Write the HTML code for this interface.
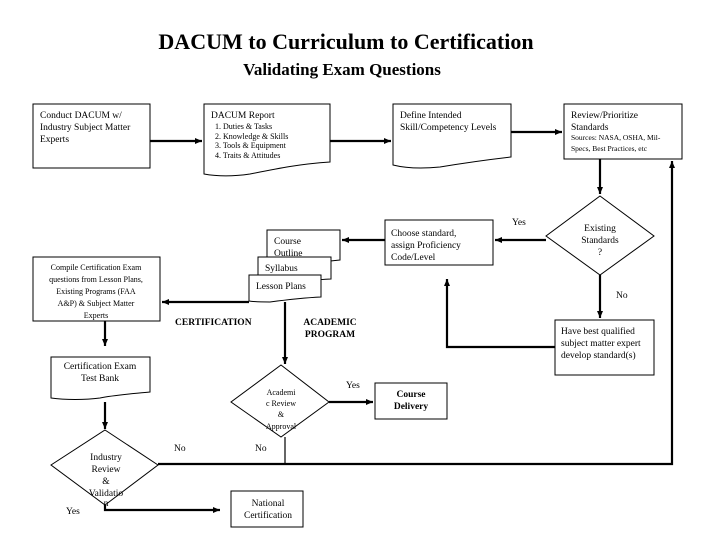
<!DOCTYPE html>
<html><head><meta charset="utf-8"><style>
html,body{margin:0;padding:0;background:#fff;}
svg{display:block;}
text{font-family:"Liberation Serif",serif;fill:#000;}
</style></head><body>
<svg width="720" height="540" viewBox="0 0 720 540" xmlns="http://www.w3.org/2000/svg">
<defs>
<marker id="a" markerWidth="8" markerHeight="8" refX="7" refY="4" orient="auto" markerUnits="userSpaceOnUse">
<path d="M0,1 L7,4 L0,7 Z" fill="#000"/></marker>
</defs>
<text x="346" y="49" font-size="22" font-weight="bold" text-anchor="middle">DACUM to Curriculum to Certification</text>
<text x="342" y="75" font-size="17" font-weight="bold" text-anchor="middle">Validating Exam Questions</text>

<g fill="none" stroke="#000" stroke-width="1">
<rect x="33" y="104" width="117" height="64"/>
<path d="M204,104 H330 V162 C300,164 280,168 250,174 C230,177 215,176 204,174 Z"/>
<path d="M393,104 H511 V157 C485,160 470,162 440,167 C420,169 405,168 393,165 Z"/>
<rect x="564" y="104" width="118" height="55"/>
<path d="M600,196 L654,236 L600,275 L546,236 Z"/>
<rect x="385" y="220" width="108" height="45"/>
<rect x="555" y="320" width="99" height="55"/>
<path d="M267,230 H340 V260 C320,262 300,264 285,267 C278,268 272,268 267,267 Z" fill="#fff"/>
<path d="M258,257 H331 V279 C310,280 295,282 280,284 C272,284 265,284 258,283 Z" fill="#fff"/>
<path d="M249,275 H321 V297 C300,298 285,300 270,302 C262,302 255,302 249,301 Z" fill="#fff"/>
<rect x="33" y="257" width="127" height="64"/>
<path d="M51,357 H150 V392 C130,394 115,395 100,398 C85,400 65,400 51,398 Z"/>
<path d="M105,430 L158,465 L105,505 L51,465 Z"/>
<path d="M281,365 L329,402 L281,437 L231,402 Z"/>
<rect x="375" y="383" width="72" height="36"/>
<rect x="231" y="491" width="72" height="36"/>
</g>

<g fill="none" stroke="#000" stroke-width="2.2">
<line x1="150" y1="141" x2="202" y2="141" marker-end="url(#a)"/>
<line x1="330" y1="141" x2="391" y2="141" marker-end="url(#a)"/>
<line x1="511" y1="132" x2="562" y2="132" marker-end="url(#a)"/>
<line x1="600" y1="159" x2="600" y2="194" marker-end="url(#a)"/>
<line x1="546" y1="240" x2="495" y2="240" marker-end="url(#a)"/>
<line x1="600" y1="275" x2="600" y2="318" marker-end="url(#a)"/>
<polyline points="555,347 447,347 447,279" marker-end="url(#a)"/>
<polyline points="158,464 672,464 672,161" marker-end="url(#a)"/>
<line x1="385" y1="240" x2="342" y2="240" marker-end="url(#a)"/>
<line x1="249" y1="302" x2="162" y2="302" marker-end="url(#a)"/>
<line x1="105" y1="321" x2="105" y2="346" marker-end="url(#a)"/>
<line x1="105" y1="402" x2="105" y2="429" marker-end="url(#a)"/>
<line x1="285" y1="302" x2="285" y2="364" marker-end="url(#a)"/>
<line x1="329" y1="402" x2="373" y2="402" marker-end="url(#a)"/>
<polyline points="105,505 105,510 220,510" marker-end="url(#a)"/>
</g>
<line x1="285" y1="437" x2="285" y2="464" stroke="#000" stroke-width="1.2"/>

<g font-size="9.5">
<text x="40" y="118">Conduct DACUM w/</text>
<text x="40" y="130">Industry Subject Matter</text>
<text x="40" y="142">Experts</text>
<text x="211" y="118">DACUM Report</text>
<text x="400" y="118">Define Intended</text>
<text x="400" y="130">Skill/Competency Levels</text>
<text x="571" y="118">Review/Prioritize</text>
<text x="571" y="130">Standards</text>
<text x="391" y="236">Choose standard,</text>
<text x="391" y="248">assign Proficiency</text>
<text x="391" y="260">Code/Level</text>
<text x="561" y="334">Have best qualified</text>
<text x="561" y="346">subject matter expert</text>
<text x="561" y="358">develop standard(s)</text>
<text x="274" y="244">Course</text>
<text x="274" y="256">Outline</text>
<text x="265" y="271">Syllabus</text>
<text x="256" y="289">Lesson Plans</text>
<text x="100" y="369" text-anchor="middle">Certification Exam</text>
<text x="100" y="381" text-anchor="middle">Test Bank</text>
<text x="106" y="460" text-anchor="middle">Industry</text>
<text x="106" y="472" text-anchor="middle">Review</text>
<text x="106" y="484" text-anchor="middle">&amp;</text>
<text x="106" y="496" text-anchor="middle">Validatio</text>
<text x="106" y="506" text-anchor="middle">n</text>
<text x="268" y="506" text-anchor="middle">National</text>
<text x="268" y="518" text-anchor="middle">Certification</text>
<text x="600" y="231" text-anchor="middle">Existing</text>
<text x="600" y="243" text-anchor="middle">Standards</text>
<text x="600" y="255" text-anchor="middle">?</text>
<text x="512" y="225">Yes</text>
<text x="616" y="298">No</text>
<text x="346" y="388">Yes</text>
<text x="174" y="451">No</text>
<text x="255" y="451">No</text>
<text x="66" y="514">Yes</text>
</g>
<g font-size="8">
<text x="215" y="129">1. Duties &amp; Tasks</text>
<text x="215" y="139">2. Knowledge &amp; Skills</text>
<text x="215" y="148">3. Tools &amp; Equipment</text>
<text x="215" y="158">4. Traits &amp; Attitudes</text>
<text x="96" y="270" text-anchor="middle">Compile Certification Exam</text>
<text x="96" y="282" text-anchor="middle">questions from Lesson Plans,</text>
<text x="96" y="294" text-anchor="middle">Existing Programs (FAA</text>
<text x="96" y="306" text-anchor="middle">A&amp;P) &amp; Subject Matter</text>
<text x="96" y="318" text-anchor="middle">Experts</text>
<text x="281" y="395" text-anchor="middle">Academi</text>
<text x="281" y="406" text-anchor="middle">c Review</text>
<text x="281" y="417" text-anchor="middle">&amp;</text>
<text x="281" y="429" text-anchor="middle">Approval</text>
</g>
<g font-size="7.5">
<text x="571" y="140">Sources: NASA, OSHA, Mil-</text>
<text x="571" y="151">Specs, Best Practices, etc</text>
</g>
<g font-size="9.5" font-weight="bold">
<text x="175" y="325">CERTIFICATION</text>
<text x="330" y="325" text-anchor="middle">ACADEMIC</text>
<text x="330" y="337" text-anchor="middle">PROGRAM</text>
<text x="411" y="397" text-anchor="middle">Course</text>
<text x="411" y="409" text-anchor="middle">Delivery</text>
</g>
</svg>
</body></html>
